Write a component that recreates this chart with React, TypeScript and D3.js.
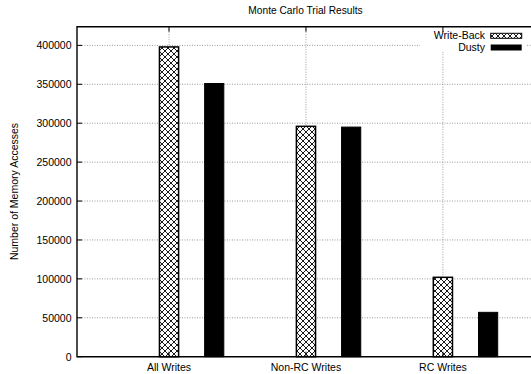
import React from "react";
import * as d3 from "d3";

// chart data
const categories = ["All Writes", "Non-RC Writes", "RC Writes"];
const writeBack = [398000, 296000, 102000];
const dusty = [351000, 295000, 57000];
const seriesNames = ["Write-Back", "Dusty"];
const yTicks = [0, 50000, 100000, 150000, 200000, 250000, 300000, 350000, 400000];

const W = 531;
const H = 374;
const left = 77;
const top = 26.7;
const bottom = 356.7;

const font = "'Liberation Sans', Arial, Helvetica, sans-serif";

const App = () => {
  const y = d3.scaleLinear().domain([0, 424000]).range([bottom, top]);
  // categories sit at 0,1,2 ; the plot runs past the right edge of the picture
  const x = d3.scaleLinear().domain([-0.672, 2.709]).range([left, 540]);
  const boxW = 0.14;
  const offset = 0.33;
  const bw = x(boxW) - x(0);

  const grid = { stroke: "#9a9a9a", strokeWidth: 1, strokeDasharray: "1,1.5" };

  return (
    <svg
      width={W}
      height={H}
      style={{ position: "absolute", left: 0, top: 0, background: "#fff" }}
      fontFamily={font}
    >
      <defs>
        <pattern id="xhatch" patternUnits="userSpaceOnUse" width={6} height={6}>
          <rect width={6} height={6} fill="#fff" />
          <path d="M0,0 L6,6 M6,0 L0,6 M-1,5 L1,7 M5,-1 L7,1 M-1,1 L1,-1 M5,7 L7,5" stroke="#000" strokeWidth={0.9} />
        </pattern>
      </defs>

      {/* title */}
      <text x={305.5} y={13.5} textAnchor="middle" fontSize={10.2}>
        Monte Carlo Trial Results
      </text>

      {/* y axis label */}
      <text
        transform={`translate(18,191.5) rotate(-90)`}
        textAnchor="middle"
        fontSize={10.5}
      >
        Number of Memory Accesses
      </text>

      {/* grid */}
      {yTicks.slice(1).map((t) => (
        <line key={"gy" + t} x1={left} x2={W} y1={y(t)} y2={y(t)} {...grid} />
      ))}
      {categories.map((c, i) => (
        <line key={"gx" + c} x1={x(i)} x2={x(i)} y1={top} y2={bottom} {...grid} />
      ))}

      {/* bars */}
      {writeBack.map((v, i) => (
        <rect
          key={"wb" + i}
          x={x(i) - bw / 2}
          y={y(v)}
          width={bw}
          height={y(0) - y(v)}
          fill="url(#xhatch)"
          stroke="#000"
          strokeWidth={1.5}
        />
      ))}
      {dusty.map((v, i) => (
        <rect
          key={"du" + i}
          x={x(i + offset) - bw / 2}
          y={y(v)}
          width={bw}
          height={y(0) - y(v)}
          fill="#000"
          stroke="#000"
          strokeWidth={1}
        />
      ))}

      {/* legend */}
      <rect x={420} y={top} width={107} height={25} fill="#fff" />
      <text x={485} y={38.5} textAnchor="end" fontSize={10.5}>
        {seriesNames[0]}
      </text>
      <text x={485} y={50.5} textAnchor="end" fontSize={10.5}>
        {seriesNames[1]}
      </text>
      <rect x={490.7} y={33.3} width={31} height={5} fill="url(#xhatch)" stroke="#000" strokeWidth={1} />
      <rect x={490.7} y={44.5} width={31} height={6} fill="#000" />

      {/* tick marks */}
      {yTicks.map((t) => (
        <line key={"ty" + t} x1={left} x2={left + 5} y1={y(t)} y2={y(t)} stroke="#000" strokeWidth={1} />
      ))}
      {categories.map((c, i) => (
        <g key={"tx" + c}>
          <line x1={x(i)} x2={x(i)} y1={top} y2={top + 5} stroke="#000" strokeWidth={1} />
          <line x1={x(i)} x2={x(i)} y1={bottom} y2={bottom - 5} stroke="#000" strokeWidth={1} />
        </g>
      ))}

      {/* axis border */}
      <path d={`M${W + 5},${top} L${left},${top} L${left},${bottom} L${W + 5},${bottom}`} fill="none" stroke="#000" strokeWidth={1.4} />

      {/* tick labels */}
      {yTicks.map((t) => (
        <text key={"ly" + t} x={71.5} y={y(t) + 3.8} textAnchor="end" fontSize={10.5}>
          {t}
        </text>
      ))}
      {categories.map((c, i) => (
        <text key={"lx" + c} x={x(i)} y={371} textAnchor="middle" fontSize={10.5}>
          {c}
        </text>
      ))}
    </svg>
  );
};

export default App;
